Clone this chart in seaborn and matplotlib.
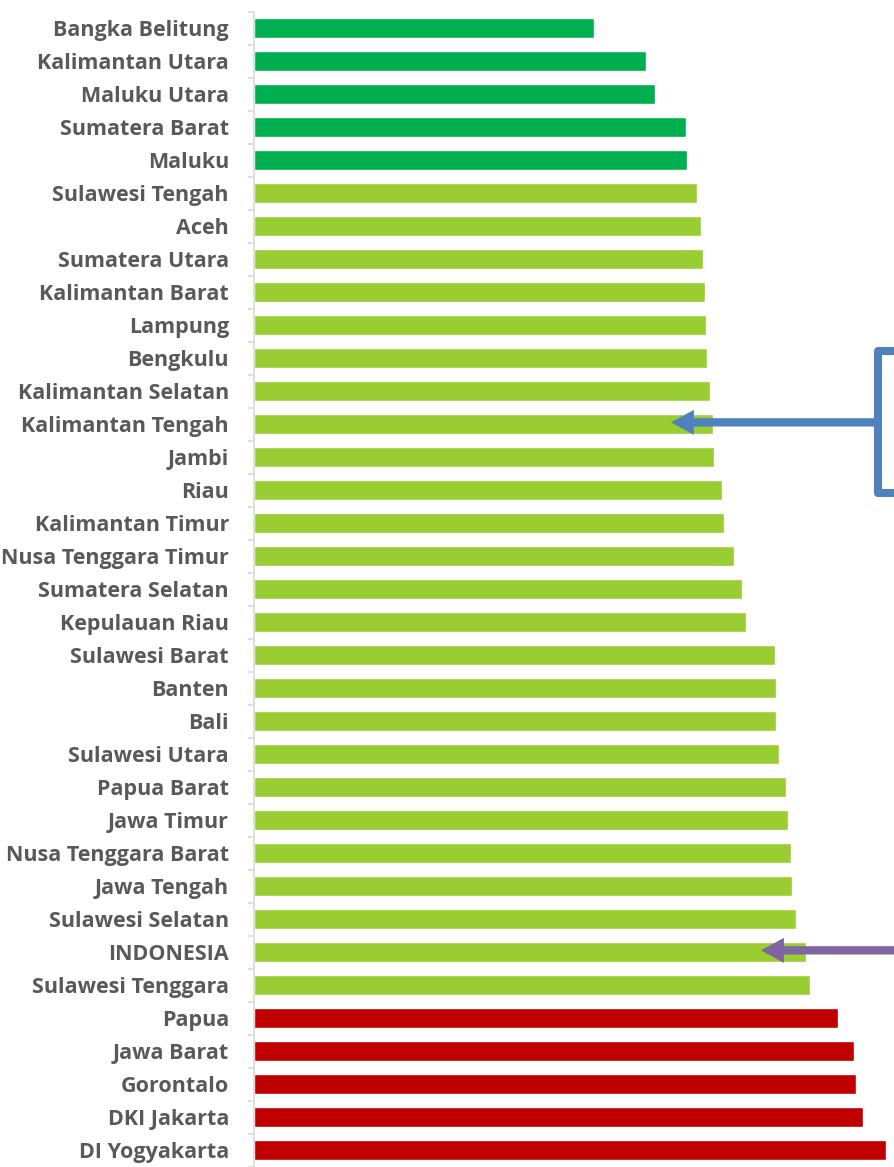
import pandas as pd
import matplotlib.pyplot as plt
import seaborn as sns

provinces = [
    "Bangka Belitung", "Kalimantan Utara", "Maluku Utara", "Sumatera Barat", "Maluku",
    "Sulawesi Tengah", "Aceh", "Sumatera Utara", "Kalimantan Barat", "Lampung",
    "Bengkulu", "Kalimantan Selatan", "Kalimantan Tengah", "Jambi", "Riau",
    "Kalimantan Timur", "Nusa Tenggara Timur", "Sumatera Selatan", "Kepulauan Riau",
    "Sulawesi Barat", "Banten", "Bali", "Sulawesi Utara", "Papua Barat", "Jawa Timur",
    "Nusa Tenggara Barat", "Jawa Tengah", "Sulawesi Selatan", "INDONESIA",
    "Sulawesi Tenggara", "Papua", "Jawa Barat", "Gorontalo", "DKI Jakarta", "DI Yogyakarta",
]
values = [
    34.0, 39.2, 40.1, 43.2, 43.3, 44.3, 44.7, 44.9, 45.1, 45.2,
    45.3, 45.6, 45.9, 46.0, 46.8, 47.0, 48.0, 48.8, 49.2, 52.1,
    52.2, 52.2, 52.5, 53.2, 53.4, 53.7, 53.8, 54.2, 55.2, 55.6,
    58.4, 60.0, 60.2, 60.9, 63.2,
]
groups = ["low"] * 5 + ["mid"] * 25 + ["high"] * 5
palette = {"low": "#00B050", "mid": "#9ACD32", "high": "#C00000"}

df = pd.DataFrame({"provinsi": provinces, "nilai": values, "grup": groups})

sns.set_theme(style="white")
plt.rcParams["font.family"] = ["Open Sans", "DejaVu Sans"]

W, H = 894, 1167
fig = plt.figure(figsize=(W / 100, H / 100), dpi=100)
ax = fig.add_axes([254 / W, 0.5 / H, 640 / W, 1155 / H])

sns.barplot(data=df, y="provinsi", x="nilai", hue="grup", palette=palette,
            dodge=False, legend=False, width=0.6, orient="h", ax=ax, saturation=1)

ax.set_xlim(0, 64)
ax.set_ylim(len(provinces) - 0.5, -0.5)
ax.set_xlabel("")
ax.set_ylabel("")
ax.set_xticks([])
for s in ["top", "right", "bottom"]:
    ax.spines[s].set_visible(False)
ax.spines["left"].set_color("#D9D9D9")
ax.spines["left"].set_linewidth(1.2)

ax.set_yticks([i - 0.5 for i in range(len(provinces) + 1)], minor=True)
ax.tick_params(axis="y", which="minor", left=True, length=4, color="#D9D9D9", width=1.2)
ax.tick_params(axis="y", which="major", left=False, length=0, pad=18)
for lab in ax.get_yticklabels():
    lab.set_fontweight("bold")
    lab.set_color("#595959")
    lab.set_fontsize(15.5)

arrow_style = "simple,head_length=1.65,head_width=1.8,tail_width=0.6"

# blue bracket + arrow to Kalimantan Tengah
blue = "#4F81BD"
ax.plot([66, 62.4, 62.4, 66], [9.8, 9.8, 14.1, 14.1], color=blue, lw=5.8,
        clip_on=False, solid_joinstyle="round")
i_kt = provinces.index("Kalimantan Tengah")
ax.annotate("", xy=(41.7, i_kt - 0.05), xytext=(62.4, i_kt - 0.05),
            arrowprops=dict(arrowstyle=arrow_style, lw=0, color=blue,
                            shrinkA=0, shrinkB=0, mutation_scale=10),
            annotation_clip=False)

# purple arrow to INDONESIA
purple = "#8064A2"
i_id = provinces.index("INDONESIA")
ax.annotate("", xy=(50.7, i_id - 0.05), xytext=(66, i_id - 0.05),
            arrowprops=dict(arrowstyle=arrow_style, lw=0, color=purple,
                            shrinkA=0, shrinkB=0, mutation_scale=10),
            annotation_clip=False)

fig.savefig("out.png", dpi=100)
